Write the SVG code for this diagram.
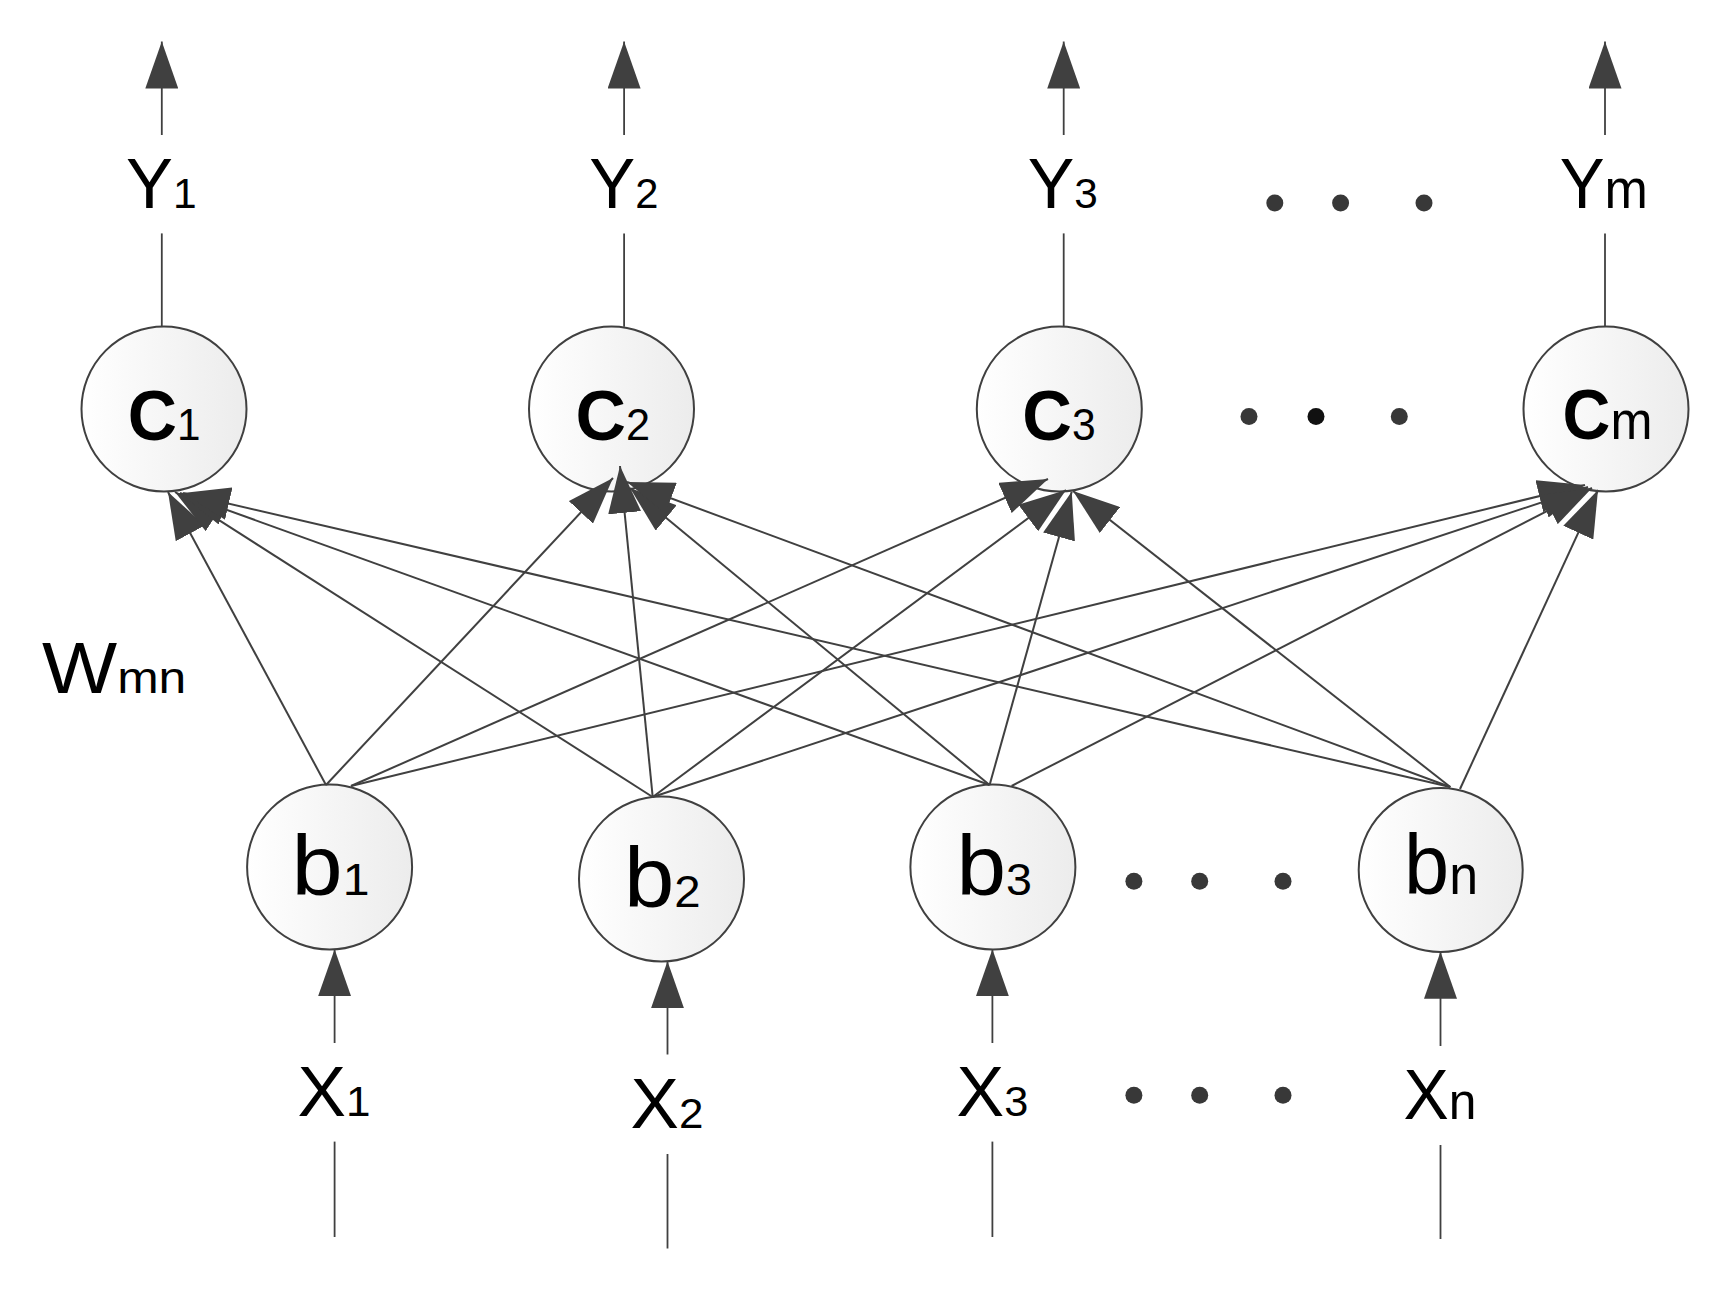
<svg xmlns="http://www.w3.org/2000/svg" width="1718" height="1289" viewBox="0 0 1718 1289">
<style>
.node{fill:url(#g);stroke:#404040;stroke-width:2}
.edge{stroke:#404040;stroke-width:2;fill:none;marker-end:url(#ah)}
.vl{stroke:#404040;stroke-width:1.8;fill:none}
.va{stroke:#404040;stroke-width:1.8;fill:none;marker-end:url(#ah)}
.t{font-family:"Liberation Sans",Arial,sans-serif;fill:#000}
.dot{fill:#383838}
</style>
<defs>
<linearGradient id="g" x1="0" y1="0" x2="1" y2="0">
<stop offset="0" stop-color="#ffffff"/>
<stop offset="1" stop-color="#ececec"/>
</linearGradient>
<marker id="ah" markerUnits="userSpaceOnUse" viewBox="0 0 47 33" markerWidth="47" markerHeight="33" refX="47" refY="16.5" orient="auto">
<path d="M0,0 L47,16.5 L0,33 z" fill="#404040"/>
</marker>
</defs>
<rect width="1718" height="1289" fill="#fff"/>

<g id="io-lines">
<line class="va" x1="161.8" y1="135" x2="161.8" y2="41.5"/>
<line class="vl" x1="161.8" y1="233.4" x2="161.8" y2="326.7"/>
<line class="va" x1="624.1" y1="135" x2="624.1" y2="41.5"/>
<line class="vl" x1="624.1" y1="233.4" x2="624.1" y2="326.7"/>
<line class="va" x1="1063.7" y1="135" x2="1063.7" y2="41.5"/>
<line class="vl" x1="1063.7" y1="233.4" x2="1063.7" y2="326.7"/>
<line class="va" x1="1605" y1="135" x2="1605" y2="41.5"/>
<line class="vl" x1="1605" y1="233.4" x2="1605" y2="326.7"/>
<line class="va" x1="334.6" y1="1043" x2="334.6" y2="949.2"/>
<line class="vl" x1="334.6" y1="1141.6" x2="334.6" y2="1237"/>
<line class="va" x1="667.5" y1="1054.5" x2="667.5" y2="961.3"/>
<line class="vl" x1="667.5" y1="1154" x2="667.5" y2="1248.5"/>
<line class="va" x1="992.4" y1="1043" x2="992.4" y2="949.2"/>
<line class="vl" x1="992.4" y1="1141.6" x2="992.4" y2="1237"/>
<line class="va" x1="1440.5" y1="1046" x2="1440.5" y2="951.7"/>
<line class="vl" x1="1440.5" y1="1145" x2="1440.5" y2="1239"/>
</g>

<g id="labels-y">
<text class="t" x="126" y="208" textLength="70.6" lengthAdjust="spacingAndGlyphs"><tspan font-size="71">Y</tspan><tspan font-size="43">1</tspan></text>
<text class="t" x="589.3" y="208" textLength="69.1" lengthAdjust="spacingAndGlyphs"><tspan font-size="71">Y</tspan><tspan font-size="43">2</tspan></text>
<text class="t" x="1027.8" y="208" textLength="70.1" lengthAdjust="spacingAndGlyphs"><tspan font-size="71">Y</tspan><tspan font-size="43">3</tspan></text>
<text class="t" x="1559.8" y="208" textLength="88.2" lengthAdjust="spacingAndGlyphs"><tspan font-size="71">Y</tspan><tspan font-size="55">m</tspan></text>
</g>

<g id="c1"><circle class="node" cx="164" cy="409" r="82.5"/>
<text class="t" x="127.7" y="440" textLength="72.7" lengthAdjust="spacingAndGlyphs"><tspan font-size="71" font-weight="bold">C</tspan><tspan font-size="44">1</tspan></text></g>
<g id="c2"><circle class="node" cx="611.5" cy="409" r="82.5"/>
<text class="t" x="575.6" y="440" textLength="74.6" lengthAdjust="spacingAndGlyphs"><tspan font-size="71" font-weight="bold">C</tspan><tspan font-size="44">2</tspan></text></g>
<g id="c3"><circle class="node" cx="1059.3" cy="409" r="82.5"/>
<text class="t" x="1022.3" y="440" textLength="73.4" lengthAdjust="spacingAndGlyphs"><tspan font-size="71" font-weight="bold">C</tspan><tspan font-size="44">3</tspan></text></g>
<g id="cm"><circle class="node" cx="1606" cy="409" r="82.5"/>
<text class="t" x="1562.5" y="439" textLength="89.9" lengthAdjust="spacingAndGlyphs"><tspan font-size="71" font-weight="bold">C</tspan><tspan font-size="54">m</tspan></text></g>

<g id="b1"><circle class="node" cx="329.6" cy="867" r="82.5"/>
<text class="t" x="291.5" y="895" textLength="77.9" lengthAdjust="spacingAndGlyphs"><tspan font-size="86">b</tspan><tspan font-size="45">1</tspan></text></g>
<g id="b2"><circle class="node" cx="661.5" cy="879" r="82.5"/>
<text class="t" x="623.9" y="907" textLength="76.7" lengthAdjust="spacingAndGlyphs"><tspan font-size="86">b</tspan><tspan font-size="45">2</tspan></text></g>
<g id="b3"><circle class="node" cx="992.9" cy="867" r="82.5"/>
<text class="t" x="956.5" y="895" textLength="75.5" lengthAdjust="spacingAndGlyphs"><tspan font-size="86">b</tspan><tspan font-size="45">3</tspan></text></g>
<g id="bn"><circle class="node" cx="1440.7" cy="870" r="82"/>
<text class="t" x="1404" y="894" textLength="74" lengthAdjust="spacingAndGlyphs"><tspan font-size="86">b</tspan><tspan font-size="55">n</tspan></text></g>

<g id="labels-x">
<text class="t" x="297.5" y="1116" textLength="73" lengthAdjust="spacingAndGlyphs"><tspan font-size="71">X</tspan><tspan font-size="43">1</tspan></text>
<text class="t" x="630.5" y="1128" textLength="72.9" lengthAdjust="spacingAndGlyphs"><tspan font-size="71">X</tspan><tspan font-size="43">2</tspan></text>
<text class="t" x="956.5" y="1116" textLength="71.8" lengthAdjust="spacingAndGlyphs"><tspan font-size="71">X</tspan><tspan font-size="43">3</tspan></text>
<text class="t" x="1403.5" y="1119" textLength="72.9" lengthAdjust="spacingAndGlyphs"><tspan font-size="71">X</tspan><tspan font-size="52">n</tspan></text>
</g>

<g id="weight-label">
<text class="t" x="42" y="693.3" textLength="144.3" lengthAdjust="spacingAndGlyphs"><tspan font-size="72">W</tspan><tspan font-size="45">mn</tspan></text>
</g>

<g id="ellipses">
<circle class="dot" cx="1274.8" cy="203" r="8.5"/>
<circle class="dot" cx="1340.6" cy="203" r="8.5"/>
<circle class="dot" cx="1424" cy="203" r="8.5"/>
<circle class="dot" cx="1249" cy="416.6" r="8.5"/>
<circle cx="1316" cy="416.6" r="8.5" fill="#111"/>
<circle class="dot" cx="1399.3" cy="416.6" r="8.5"/>
<circle class="dot" cx="1133.9" cy="881.3" r="8.5"/>
<circle class="dot" cx="1199.7" cy="881.3" r="8.5"/>
<circle class="dot" cx="1283" cy="881.3" r="8.5"/>
<circle class="dot" cx="1133.9" cy="1095.2" r="8.5"/>
<circle class="dot" cx="1199.7" cy="1095.2" r="8.5"/>
<circle class="dot" cx="1283" cy="1095.2" r="8.5"/>
</g>

<g id="connectors">
<line class="edge" x1="326" y1="785" x2="168" y2="492"/>
<line class="edge" x1="652.7" y1="797" x2="175" y2="492"/>
<line class="edge" x1="989.6" y1="785" x2="180" y2="493"/>
<line class="edge" x1="1450.3" y1="787" x2="183" y2="493"/>
<line class="edge" x1="326" y1="785" x2="613" y2="478"/>
<line class="edge" x1="652.7" y1="797" x2="620" y2="466"/>
<line class="edge" x1="989.6" y1="785" x2="630" y2="488"/>
<line class="edge" x1="1450.3" y1="787" x2="627" y2="482"/>
<line class="edge" x1="351" y1="786" x2="1048" y2="479"/>
<line class="edge" x1="652.7" y1="797" x2="1066" y2="490"/>
<line class="edge" x1="989.6" y1="785" x2="1071.7" y2="491.7"/>
<line class="edge" x1="1450.3" y1="787" x2="1073" y2="491"/>
<line class="edge" x1="351" y1="786" x2="1585" y2="485"/>
<line class="edge" x1="652.7" y1="797" x2="1588" y2="487"/>
<line class="edge" x1="1011.6" y1="786" x2="1592" y2="488"/>
<line class="edge" x1="1460" y1="789" x2="1598" y2="490"/>
</g>
</svg>
